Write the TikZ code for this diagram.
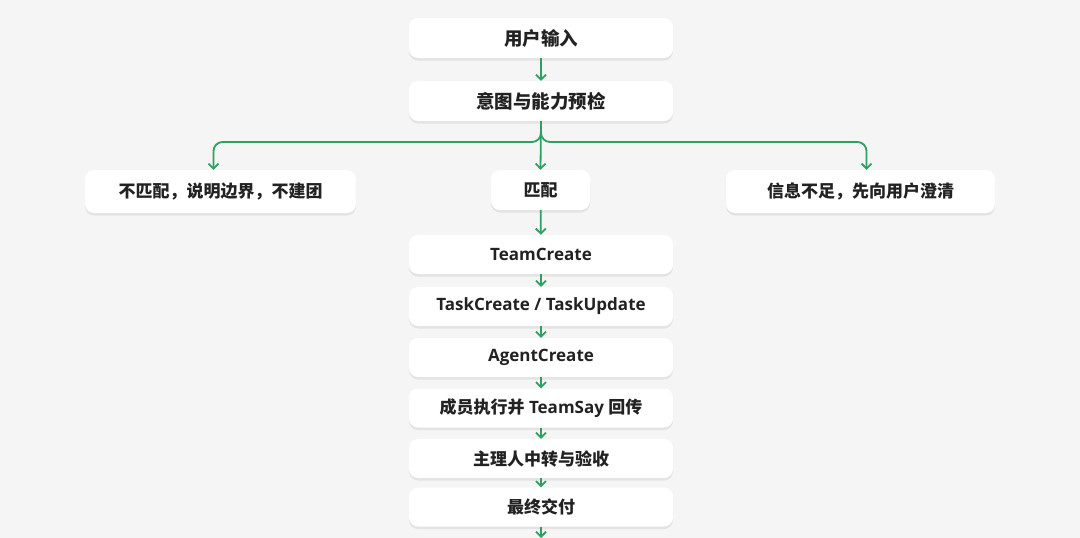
\documentclass[tikz,border=0pt]{standalone}
\usepackage{fontspec}
\setmainfont{Open Sans}
\newfontfamily\cjk{Noto Sans CJK SC}
\usetikzlibrary{arrows.meta,shadows,calc}
\definecolor{bg}{RGB}{245,245,245}
\definecolor{txt}{RGB}{34,34,34}
\definecolor{grn}{RGB}{46,160,98}
\tikzset{
  box/.style={draw=none, fill=white, rounded corners=9pt, minimum width=264pt, minimum height=39pt,
    inner sep=0pt, text=txt, font=\fontsize{17}{20}\selectfont\bfseries,
    drop shadow={shadow xshift=0pt, shadow yshift=-2.5pt, opacity=0.07, fill=black}},
  topbox/.style={box, minimum height=40pt, font=\fontsize{18.5}{22}\selectfont\bfseries},
  arr/.style={draw=grn, line width=1.8pt, -{Straight Barb[length=5pt, width=10pt, line width=1.8pt]}},
}
\begin{document}
\begin{tikzpicture}[x=1pt, y=-1pt]
\fill[bg] (0,0) rectangle (1080,538);
\useasboundingbox (0,0) rectangle (1080,538);
\node[topbox] (in)  at (541,38)  {\cjk 用户输入};
\node[topbox] (pre) at (541,101) {\cjk 意图与能力预检};
\node[box, minimum width=271pt, minimum height=43pt] (no) at (220.5,191.5) {\cjk 不匹配，说明边界，不建团};
\node[box, minimum width=99pt, minimum height=40pt] (match) at (540.5,190) {\cjk 匹配};
\node[box, minimum width=269pt, minimum height=43pt] (ask) at (860.5,191.5) {\cjk 信息不足，先向用户澄清};
\node[box] (tc) at (541,254.5) {TeamCreate};
\node[box] (tu) at (541,306.5) {TaskCreate / TaskUpdate};
\node[box] (ac) at (541,357.5) {AgentCreate};
\node[box] (ex) at (541,408) {{\cjk 成员执行并} TeamSay {\cjk 回传}};
\node[box] (rv) at (541,458.5) {\cjk 主理人中转与验收};
\node[box] (fd) at (541,507) {\cjk 最终交付};
\coordinate (end) at (541,538);
\coordinate (split) at (541,142);
\draw[arr] (in) -- (pre);
\draw[arr, rounded corners=9pt] (pre.south) -- (split) -| ($(no.north)+(-7,0)$);
\draw[arr, rounded corners=9pt] (pre.south) -- (split) -| ($(ask.north)+(6,0)$);
\draw[arr] (pre.south) -- (match.north);
\draw[arr] (match) -- (tc);
\draw[arr] (tc) -- (tu);
\draw[arr] (tu) -- (ac);
\draw[arr] (ac) -- (ex);
\draw[arr] (ex) -- (rv);
\draw[arr] (rv) -- (fd);
\draw[arr] (fd) -- (end);
\end{tikzpicture}
\end{document}
